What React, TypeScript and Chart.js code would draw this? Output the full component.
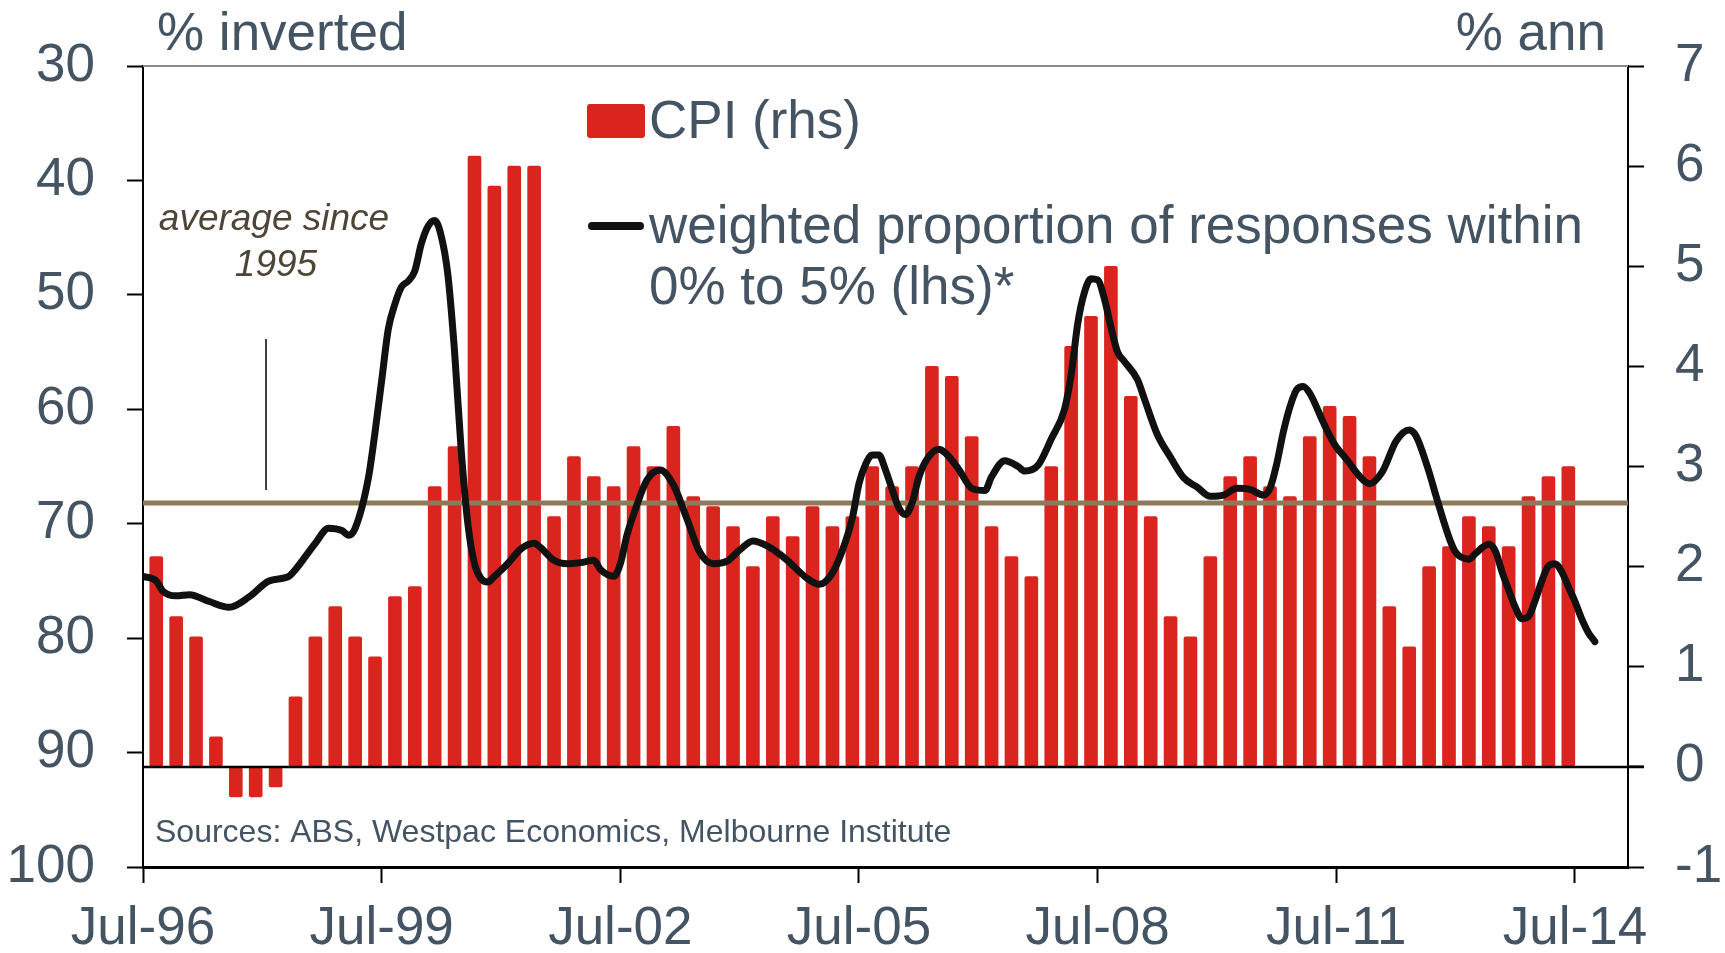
import React, { useEffect, useRef } from 'react';
import { Chart, registerables } from 'chart.js';

Chart.register(...registerables);

// ---------- data ----------
// CPI, % annual, quarterly from Sep-96 to Jun-14 (rhs)
const cpiFirstQuarter = 'Sep-96';
const cpiValues = [
  2.1, 1.5, 1.3, 0.3, -0.3, -0.3, -0.2, 0.7,
  1.3, 1.6, 1.3, 1.1, 1.7, 1.8, 2.8, 3.2,
  6.1, 5.8, 6.0, 6.0, 2.5, 3.1, 2.9, 2.8,
  3.2, 3.0, 3.4, 2.7, 2.6, 2.4, 2.0, 2.5,
  2.3, 2.6, 2.4, 2.5, 3.0, 2.8, 3.0, 4.0,
  3.9, 3.3, 2.4, 2.1, 1.9, 3.0, 4.2, 4.5,
  5.0, 3.7, 2.5, 1.5, 1.3, 2.1, 2.9, 3.1,
  2.8, 2.7, 3.3, 3.6, 3.5, 3.1, 1.6, 1.2,
  2.0, 2.2, 2.5, 2.4, 2.2, 2.7, 2.9, 3.0,
];

// weighted proportion of responses within 0% to 5% (lhs, inverted)
// months counted from Jul-96
const lineMonths = [
  0, 2, 3, 5, 7, 10, 13, 16, 19, 22, 23, 26, 28, 30, 31, 32,
  34, 35, 36, 37, 38, 39, 40, 41, 42, 43, 44, 45, 46, 47, 48, 49,
  50, 51, 52, 53, 55, 57, 59, 60, 62, 64, 66, 68, 69, 71, 72, 73,
  74, 76, 78, 80, 82, 84, 86, 88, 90, 92, 94, 97, 100, 102, 104, 106,
  107, 108, 109, 110, 111, 112, 113, 114, 115, 116, 117, 118, 120, 121, 123, 125,
  127, 128, 130, 132, 133, 135, 137, 139, 140, 141, 142, 143, 144, 145, 146, 147,
  148, 150, 151, 153, 155, 157, 159, 161, 163, 165, 167, 169, 170, 171, 172, 173,
  174, 175, 176, 178, 179, 180, 181, 182, 183, 185, 187, 189, 191, 192, 194, 195,
  197, 198, 200, 201, 203, 204, 205, 206, 207, 208, 209, 210, 211, 212, 213, 214,
  215, 216, 217, 218, 219,
];
const lineValues = [
  74.6, 75.0, 75.9, 76.3, 76.2, 76.8, 77.3, 76.4, 75.0, 74.6, 74.0, 71.7, 70.4, 70.6, 71.0, 70.4,
  66.0, 62.0, 57.5, 53.0, 50.8, 49.3, 48.8, 47.9, 45.5, 44.0, 43.5, 44.9, 48.3, 55.0, 63.6, 70.0,
  73.5, 74.8, 75.1, 74.6, 73.5, 72.2, 71.7, 72.1, 73.2, 73.5, 73.4, 73.2, 74.0, 74.6, 73.5, 71.0,
  69.2, 66.2, 65.3, 66.6, 69.5, 72.5, 73.5, 73.3, 72.3, 71.5, 71.9, 73.1, 74.7, 75.3, 74.3, 71.5,
  69.5, 66.5, 64.8, 64.0, 64.0, 65.3, 67.0, 68.6, 69.2, 68.2, 66.0, 64.6, 63.5, 63.8, 65.2, 66.9,
  67.1, 65.9, 64.5, 65.0, 65.4, 64.9, 62.6, 60.0, 57.0, 52.5, 49.8, 48.6, 48.7, 50.3, 52.8, 55.0,
  55.8, 57.4, 59.0, 62.2, 64.2, 66.0, 66.8, 67.6, 67.5, 66.9, 67.0, 67.5, 66.9, 64.8, 62.0, 59.8,
  58.3, 58.0, 58.6, 61.1, 62.3, 63.3, 64.0, 64.7, 65.5, 66.5, 65.4, 62.8, 61.8, 62.3, 65.5, 67.5,
  71.2, 72.5, 73.1, 72.6, 71.8, 72.4, 74.2, 75.8, 77.3, 78.3, 78.1, 76.7, 75.0, 73.7, 73.5, 74.2,
  75.5, 76.8, 78.3, 79.5, 80.3,
];

const averageSince1995 = 68.2;

const xTickMonths = [0, 36, 72, 108, 144, 180, 216];
const xTickLabels = ['Jul-96', 'Jul-99', 'Jul-02', 'Jul-05', 'Jul-08', 'Jul-11', 'Jul-14'];

const leftTitle = '% inverted';
const rightTitle = '% ann';
const legendCpi = 'CPI (rhs)';
const legendLine = ['weighted proportion of responses within', '0% to 5% (lhs)*'];
const annotationText = ['average since', '1995'];
const sourcesText = 'Sources: ABS, Westpac Economics, Melbourne Institute';

// ---------- style ----------
const W = 1725;
const H = 953;
const FONT = '"Liberation Sans", Arial, Helvetica, sans-serif';
const TEXT = '#455462';
const RED = '#DA251F';
const BROWN = '#8C7A5A';

// month offset (from Jul-96) of the first CPI bar
const monthIndexOf = (lbl: string) => {
  const mons = ['Jan', 'Feb', 'Mar', 'Apr', 'May', 'Jun', 'Jul', 'Aug', 'Sep', 'Oct', 'Nov', 'Dec'];
  const [m, y] = lbl.split('-');
  const yr = 1900 + parseInt(y, 10) + (parseInt(y, 10) < 50 ? 100 : 0);
  return (yr - 1996) * 12 + mons.indexOf(m) - 6;
};
const cpiStart = monthIndexOf(cpiFirstQuarter);
const cpiData = cpiValues.map((v, i) => ({ x: cpiStart + 3 * i, y: v }));
const lineData = lineMonths.map((m, i) => ({ x: m, y: lineValues[i] }));

const overlay = {
  id: 'overlay',
  afterDatasetDraw(chart: any, args: any) {
    if (args.meta.type !== 'bar') return;
    const { ctx, chartArea } = chart;
    const yL = chart.scales.y;
    const yR = chart.scales.y2;
    ctx.save();
    const ay = yL.getPixelForValue(averageSince1995);
    ctx.strokeStyle = BROWN;
    ctx.lineWidth = 5;
    ctx.beginPath();
    ctx.moveTo(chartArea.left, ay);
    ctx.lineTo(chartArea.right, ay);
    ctx.stroke();
    const zy = yR.getPixelForValue(0);
    ctx.strokeStyle = '#000';
    ctx.lineWidth = 2.5;
    ctx.beginPath();
    ctx.moveTo(chartArea.left, zy);
    ctx.lineTo(chartArea.right + 16, zy);
    ctx.stroke();
    ctx.restore();
  },
  afterDraw(chart: any) {
    const { ctx, chartArea } = chart;
    const L = chartArea.left;
    const T = chartArea.top;
    ctx.save();
    // top border
    ctx.strokeStyle = '#8a8a8a';
    ctx.lineWidth = 2;
    ctx.beginPath();
    ctx.moveTo(L, T);
    ctx.lineTo(chartArea.right, T);
    ctx.stroke();

    // axis titles
    ctx.fillStyle = TEXT;
    ctx.textBaseline = 'alphabetic';
    ctx.font = `53px ${FONT}`;
    ctx.textAlign = 'left';
    ctx.fillText(leftTitle, 157, 50);
    ctx.textAlign = 'right';
    ctx.fillText(rightTitle, 1606, 50);

    // legend
    ctx.fillStyle = RED;
    ctx.beginPath();
    (ctx as any).roundRect ? (ctx as any).roundRect(587, 104, 58, 34, 3) : ctx.rect(587, 104, 58, 34);
    ctx.fill();
    ctx.strokeStyle = '#111';
    ctx.lineWidth = 8;
    ctx.lineCap = 'round';
    ctx.beginPath();
    ctx.moveTo(592, 226);
    ctx.lineTo(640, 226);
    ctx.stroke();
    ctx.fillStyle = TEXT;
    ctx.textAlign = 'left';
    ctx.font = `53px ${FONT}`;
    ctx.fillText(legendCpi, 649, 138);
    ctx.fillText(legendLine[0], 649, 243);
    ctx.fillText(legendLine[1], 649, 304);

    // annotation
    ctx.fillStyle = '#4F4536';
    ctx.textAlign = 'center';
    ctx.font = `italic 37px ${FONT}`;
    ctx.fillText(annotationText[0], 274, 230);
    ctx.fillText(annotationText[1], 276, 276);
    ctx.strokeStyle = '#000';
    ctx.lineWidth = 1.5;
    ctx.lineCap = 'butt';
    ctx.beginPath();
    ctx.moveTo(266, 339);
    ctx.lineTo(266, 490);
    ctx.stroke();

    // sources
    ctx.fillStyle = TEXT;
    ctx.textAlign = 'left';
    ctx.font = `32px ${FONT}`;
    ctx.fillText(sourcesText, 155, 842);
    ctx.restore();
  },
};

export default function App() {
  const ref = useRef<HTMLCanvasElement | null>(null);
  useEffect(() => {
    const canvas = ref.current;
    if (!canvas) return;
    const tickFont = { family: FONT, size: 53, lineHeight: 1.2 };
    const axisGrid = { drawOnChartArea: false, drawTicks: true, tickLength: 16, tickWidth: 2, tickColor: '#000', offset: false };
    const chart = new Chart(canvas, {
      type: 'line',
      data: {
        datasets: [
          {
            type: 'line',
            label: 'weighted proportion',
            data: lineData,
            yAxisID: 'y',
            xAxisID: 'x',
            borderColor: '#111111',
            borderWidth: 7,
            borderJoinStyle: 'round',
            borderCapStyle: 'round',
            pointRadius: 0,
            cubicInterpolationMode: 'monotone',
            fill: false,
            order: 0,
          } as any,
          {
            type: 'bar',
            label: 'CPI',
            data: cpiData,
            yAxisID: 'y2',
            xAxisID: 'x',
            backgroundColor: RED,
            barThickness: 13,
            borderRadius: 2,
            borderSkipped: false,
            order: 1,
          } as any,
        ],
      },
      options: {
        responsive: false,
        animation: false,
        events: [],
        elements: { line: { borderWidth: 7 } },
        layout: { padding: { top: 66, left: 0, right: 0, bottom: 0 } },
        plugins: { legend: { display: false }, tooltip: { enabled: false } },
        scales: {
          x: {
            type: 'linear',
            min: 0,
            max: 224,
            offset: false,
            afterBuildTicks: (s: any) => {
              s.ticks = xTickMonths.map((v) => ({ value: v }));
            },
            afterFit: (s: any) => {
              s.height = 86;
            },
            ticks: {
              autoSkip: false,
              maxRotation: 0,
              minRotation: 0,
              padding: 15,
              color: TEXT,
              font: tickFont,
              callback: (v: any) => {
                const i = xTickMonths.indexOf(Number(v));
                return i >= 0 ? xTickLabels[i] : '';
              },
            },
            grid: axisGrid,
            border: { display: true, color: '#000', width: 3 },
          },
          y: {
            type: 'linear',
            position: 'left',
            reverse: true,
            min: 30,
            max: 100,
            afterFit: (s: any) => {
              s.width = 143;
            },
            ticks: { stepSize: 10, padding: 32, color: TEXT, font: tickFont },
            grid: axisGrid,
            border: { display: true, color: '#000', width: 2 },
          },
          y2: {
            type: 'linear',
            position: 'right',
            min: -1,
            max: 7,
            afterFit: (s: any) => {
              s.width = 97;
            },
            ticks: { stepSize: 1, padding: 31, color: TEXT, font: tickFont },
            grid: axisGrid,
            border: { display: true, color: '#000', width: 2 },
          },
        },
      } as any,
      plugins: [overlay],
    });
    return () => chart.destroy();
  }, []);

  return (
    <div style={{ position: 'absolute', left: 0, top: 0, width: W, height: H, background: '#fff' }}>
      <canvas ref={ref} width={W} height={H} style={{ display: 'block', width: W, height: H }} />
    </div>
  );
}
